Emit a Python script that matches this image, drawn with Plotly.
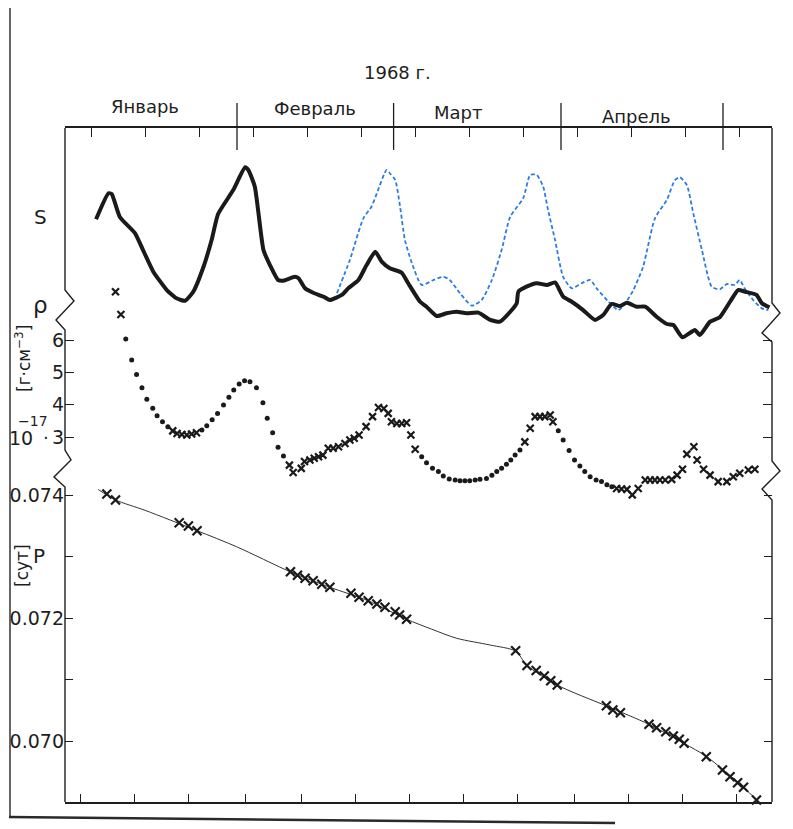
import plotly.graph_objects as go

# ---------------- data (x = day of 1968, 0 = 1 January) ----------------
# S : solar index, arbitrary units (solid black curve)
s_black_day = [4.9, 7.2, 7.8, 9.3, 12.1, 13.6, 15.5, 18.0, 19.8, 21.4, 22.9, 24.8, 26.3, 27.5, 30.3,
               32.5, 33.1, 34.3, 35.9, 37.1, 38.6, 39.6, 41.7, 42.4, 43.6, 45.1, 47.0, 48.2, 50.4,
               51.6, 53.5, 55.0, 56.6, 57.8, 59.3, 61.5, 62.7, 64.9, 66.1, 68.0, 69.8, 71.7, 73.5,
               75.7, 77.9, 79.7, 81.6, 82.8, 83.1, 84.6, 86.5, 88.4, 89.9, 91.4, 93.0, 95.1, 97.3,
               98.8, 100.4, 101.9, 103.2, 105.0, 106.6, 108.7, 110.6, 111.8, 113.5, 115.8, 116.7,
               118.6, 120.4, 122.3, 123.8, 125.1, 127.2, 128.2, 129.6]
s_black_val = [71.0, 86.3, 85.9, 72.4, 62.9, 52.9, 40.2, 29.4, 24.5, 23.1, 28.4, 43.1, 58.8, 74.1, 88.2,
               101.6, 100.0, 90.2, 52.9, 44.1, 35.3, 34.9, 37.2, 36.3, 30.4, 27.8, 25.5, 23.5, 26.5,
               30.4, 35.3, 44.1, 51.9, 46.1, 42.2, 39.6, 33.4, 22.5, 19.6, 14.1, 15.7, 16.6, 15.7,
               16.1, 11.8, 10.8, 16.6, 21.6, 28.4, 31.4, 33.4, 32.4, 33.9, 25.5, 22.5, 17.6, 11.8,
               14.7, 21.2, 20.0, 21.9, 19.6, 19.6, 13.7, 9.4, 8.8, 1.6, 5.9, 2.9,
               10.8, 13.4, 22.5, 29.4, 28.4, 26.5, 21.6, 19.2]
# S : second curve (blue dashed)
s_blue_day = [49.5, 51.9, 54.4, 55.9, 56.9, 58.7, 59.3, 60.3, 61.2, 62.1, 63.4, 65.2, 67.4, 69.2, 70.4,
              72.3, 74.5, 76.3, 78.2, 80.0, 81.6, 84.0, 85.3, 86.5, 87.7, 88.6, 89.9, 91.4, 93.0,
              94.8, 96.4, 97.6, 99.8, 101.6, 102.9, 104.4, 106.2, 108.4, 110.6, 112.1, 113.0, 114.3,
              115.5, 117.1, 118.9, 120.4, 121.7, 123.2, 124.1, 125.0, 126.6, 128.2, 129.4]
s_blue_val = [27.5, 47.1, 71.6, 78.4, 86.3, 100.0, 98.1, 94.1, 78.4, 58.8, 45.1, 32.4, 35.3, 37.2, 35.3,
              27.5, 20.2, 23.5, 35.3, 52.9, 72.5, 83.4, 97.1, 97.1, 90.2, 76.5, 58.8, 37.2, 30.4,
              33.4, 35.3, 30.4, 22.5, 17.6, 21.6, 29.4, 43.1, 71.6, 82.4, 94.1, 95.7, 91.2,
              74.5, 52.9, 31.4, 29.8, 32.9, 32.4, 35.3, 30.4, 23.5, 18.6, 17.6]

# rho : density, 10^-17 g/cm^3 (crosses and dots)
rho_cross_day = [8.5, 9.5, 19.1, 19.9, 20.8, 21.7, 22.6, 23.5,
                 40.7, 41.4, 42.9, 43.5, 44.5, 45.3, 46.1, 46.9, 47.9, 48.8, 49.8, 51.0, 51.9, 52.7,
                 53.6, 54.9, 56.1, 57.2, 58.2, 59.0, 59.6, 60.6, 61.5, 62.4, 63.2, 64.0,
                 84.3, 85.3, 86.2, 87.1, 88.0, 89.0, 89.5,
                 101.3, 102.2, 103.2, 104.2, 105.3, 106.6, 107.5, 108.4, 109.3, 110.3, 111.5, 112.5,
                 113.5, 114.3, 115.6, 116.2, 117.4, 118.6, 120.1, 121.7, 122.9, 124.1, 125.7, 126.9]
rho_cross_val = [7.49, 6.79, 3.19, 3.11, 3.08, 3.06, 3.09, 3.13,
                 2.13, 1.90, 2.03, 2.24, 2.29, 2.34, 2.39, 2.44, 2.65, 2.65, 2.70, 2.80, 2.91, 2.96,
                 3.06, 3.32, 3.63, 3.91, 3.88, 3.73, 3.47, 3.42, 3.42, 3.44, 3.06, 2.62,
                 2.85, 3.27, 3.63, 3.63, 3.63, 3.68, 3.47,
                 1.41, 1.39, 1.38, 1.21, 1.41, 1.67, 1.67, 1.67, 1.67, 1.67, 1.69, 1.82,
                 2.00, 2.47, 2.70, 2.29, 2.00, 1.82, 1.62, 1.62, 1.77, 1.88, 1.98, 2.00]
rho_dot_day = [10.4, 11.5, 12.4, 13.4, 14.3, 15.4, 16.2, 17.2, 18.2,
               24.5, 25.4, 26.4, 27.4, 28.5, 29.5, 30.4, 31.4, 32.4, 33.4, 34.6, 35.8, 36.6, 37.6,
               38.6, 39.6,
               65.2, 66.1, 67.2, 68.3, 69.2, 70.3, 71.4, 72.3, 73.2, 74.1, 75.1, 76.0, 77.2, 78.2,
               79.1, 80.0, 80.9, 81.7, 82.5, 83.4,
               90.5, 91.4, 92.5, 93.5, 94.5, 95.4, 96.4, 97.5, 98.5, 99.5, 100.4]
rho_dot_val = [6.03, 5.38, 4.93, 4.52, 4.17, 3.89, 3.66, 3.47, 3.32,
               3.22, 3.35, 3.53, 3.73, 3.99, 4.23, 4.45, 4.64, 4.74, 4.71, 4.52, 4.06, 3.58, 3.13,
               2.68, 2.41,
               2.39, 2.20, 2.03, 1.93, 1.79, 1.70, 1.67, 1.65, 1.65, 1.65, 1.67, 1.69, 1.72, 1.82,
               1.93, 2.03, 2.16, 2.29, 2.44, 2.60,
               3.19, 2.91, 2.58, 2.29, 2.10, 1.93, 1.77, 1.67, 1.62, 1.52, 1.46]

# P : orbital period, days (crosses + smooth curve)
p_cross_day = [6.9, 8.5, 20.3, 22.0, 23.6, 40.9, 42.2, 43.6, 45.1, 46.7, 48.2, 52.1, 53.6, 55.3, 56.9,
               58.4, 60.3, 61.1, 62.4, 82.6, 84.7, 86.4, 87.9, 89.1, 90.3, 99.4, 100.6, 102.0,
               107.3, 108.7, 110.4, 111.8, 112.9, 113.8, 117.9, 120.9, 122.3, 123.7, 124.8, 127.2]
p_cross_val = [0.074016, 0.073919, 0.073550, 0.073496, 0.073420, 0.072753, 0.072694, 0.072646,
               0.072607, 0.072548, 0.072499, 0.072402, 0.072337, 0.072281, 0.072228, 0.072174,
               0.072102, 0.072049, 0.071979, 0.071468, 0.071228, 0.071146, 0.071057, 0.070980,
               0.070911, 0.070574, 0.070504, 0.070460, 0.070272, 0.070216, 0.070151, 0.070081,
               0.070028, 0.069963, 0.069745, 0.069528, 0.069420, 0.069322, 0.069247, 0.069041]
p_curve_day = [5.3, 8.5, 14.0, 23.6, 30.9, 40.9, 48.2, 55.3, 62.4, 67.0, 71.7, 77.9, 82.6, 84.7,
               90.3, 99.4, 107.3, 113.8, 117.9, 124.8, 127.2]
p_curve_val = [0.07409, 0.07392, 0.07375, 0.07342, 0.07316, 0.07275, 0.07250, 0.07228, 0.07198,
               0.07182, 0.07167, 0.07156, 0.07146, 0.07123, 0.07091, 0.07057, 0.07027, 0.06996,
               0.06975, 0.06925, 0.06904]

# axes / labels
month_names = ["Январь", "Февраль", "Март", "Апрель"]
month_label_day = [14.0, 45.4, 72.0, 104.9]
month_start_day = [31, 60, 91, 121]
top_tick_day = [4, 14, 24, 34, 44, 54, 64, 74, 84, 94, 104, 114, 124]
bottom_tick_day = [2, 12, 22, 32.5, 43, 53, 63, 73, 83, 93.5, 103.5, 113.5, 123.5]
rho_tick_vals = [3, 4, 5, 6]
rho_tick_text = ["3", "4", "5", "6"]
p_tick_vals = [0.070, 0.072, 0.074]
p_tick_text = ["0.070", "0.072", "0.074"]
p_minor_vals = [0.071, 0.073]

# ---------------- geometry (page pixels; the page body adds an 8 px offset) ----------------
PAGE_W, PAGE_H, BODY = 793, 829, 8
W, H = PAGE_W - BODY, PAGE_H - BODY
PL, PR, PT, PB = 65, 772, 128, 802          # plot area in page pixels
DAY0_PX, PX_PER_DAY = 69.6, 5.4


def fx(px):
    return (px - PL) / (PR - PL)


def fy(py):
    return (PB - py) / (PB - PT)


def yrange(va, pa, vb, pb):
    k = (vb - va) / (pb - pa)
    return [va + (PB - pa) * k, va + (PT - pa) * k]


x_range = [(PL - DAY0_PX) / PX_PER_DAY, (PR - DAY0_PX) / PX_PER_DAY]
FONT = "DejaVu Sans"
INK = "#1e1e1e"

fig = go.Figure()

# S panel
fig.add_trace(go.Scatter(x=s_blue_day, y=s_blue_val, yaxis="y3", mode="lines",
                         line=dict(color="#2c7de3", width=1.8, dash="4px,2.5px", shape="spline",
                                   smoothing=0.6),
                         hoverinfo="skip", showlegend=False))
fig.add_trace(go.Scatter(x=s_black_day, y=s_black_val, yaxis="y3", mode="lines",
                         line=dict(color="#1a1a1a", width=4, shape="spline", smoothing=0.5),
                         hoverinfo="skip", showlegend=False))
# rho
fig.add_trace(go.Scatter(x=rho_dot_day, y=rho_dot_val, yaxis="y2", mode="markers",
                         marker=dict(symbol="circle", size=5, color="#1a1a1a"),
                         cliponaxis=False, hoverinfo="skip", showlegend=False))
fig.add_trace(go.Scatter(x=rho_cross_day, y=rho_cross_val, yaxis="y2", mode="markers",
                         marker=dict(symbol="x-thin", size=7, color="#1a1a1a",
                                     line=dict(width=2.2, color="#1a1a1a")),
                         cliponaxis=False, hoverinfo="skip", showlegend=False))
# P
fig.add_trace(go.Scatter(x=p_curve_day, y=p_curve_val, yaxis="y", mode="lines",
                         line=dict(color="#333333", width=1, shape="spline", smoothing=0.8),
                         hoverinfo="skip", showlegend=False))
fig.add_trace(go.Scatter(x=p_cross_day, y=p_cross_val, yaxis="y", mode="markers",
                         marker=dict(symbol="x-thin", size=9, color="#1a1a1a",
                                     line=dict(width=2.2, color="#1a1a1a")),
                         cliponaxis=False, hoverinfo="skip", showlegend=False))
# dummy trace for the top axis
fig.add_trace(go.Scatter(x=[None], y=[None], xaxis="x2", yaxis="y", hoverinfo="skip",
                         showlegend=False))

tickfont = dict(family=FONT, size=19, color=INK)

fig.update_layout(
    width=W, height=H, autosize=False,
    margin=dict(l=PL - BODY, r=PAGE_W - PR, t=PT - BODY, b=PAGE_H - PB, pad=0,
                autoexpand=False),
    paper_bgcolor="white", plot_bgcolor="white",
    xaxis=dict(range=x_range, showgrid=False, zeroline=False, showline=True, linecolor=INK,
               linewidth=1.5, ticks="inside", ticklen=8, tickwidth=1.2, tickcolor=INK,
               tickvals=bottom_tick_day, showticklabels=False, automargin=False),
    xaxis2=dict(range=x_range, overlaying="x", side="top", anchor="y", showgrid=False,
                zeroline=False, showline=True, linecolor=INK, linewidth=1.5, ticks="inside",
                ticklen=9, tickwidth=1.2, tickcolor=INK, tickvals=top_tick_day,
                showticklabels=False, automargin=False),
    yaxis=dict(range=yrange(0.074, 495, 0.070, 741), showgrid=False, zeroline=False,
               showline=False, ticks="inside", ticklen=8, tickwidth=1.2, tickcolor=INK,
               mirror="ticks", tickvals=p_tick_vals, ticktext=p_tick_text, tickfont=tickfont,
               automargin=False,
               minor=dict(tickvals=p_minor_vals, ticks="inside", ticklen=8, tickwidth=1.2,
                          tickcolor=INK, showgrid=False)),
    yaxis2=dict(range=yrange(6, 340, 3, 437), overlaying="y", side="left", anchor="x",
                showgrid=False, zeroline=False, showline=False, ticks="inside", ticklen=9,
                tickwidth=1.2, tickcolor=INK, mirror="ticks", tickvals=rho_tick_vals,
                ticktext=rho_tick_text, tickfont=tickfont, automargin=False),
    yaxis3=dict(range=yrange(0, 340, 100, 170), overlaying="y", visible=False,
                automargin=False),
)


def path(points):
    return "M " + " L ".join(f"{fx(a):.5f},{fy(b):.5f}" for a, b in points)


left_axis = [(PL, PT), (PL, 290), (74, 301), (56, 320), (PL, 330), (PL, 450), (71, 460),
             (54, 477), (PL, 487), (PL, PB)]
right_axis = [(PR, PT), (PR, 303), (780, 313), (762, 333), (PR, 342), (PR, 461), (780, 471),
              (762, 489), (PR, 500), (PR, PB)]
shapes = [
    dict(type="path", xref="paper", yref="paper", path=path(left_axis),
         line=dict(color=INK, width=1.4)),
    dict(type="path", xref="paper", yref="paper", path=path(right_axis),
         line=dict(color=INK, width=1.4)),
    # page frame of the scan
    dict(type="line", xref="paper", yref="paper", x0=fx(10), x1=fx(10), y0=fy(8), y1=fy(818),
         line=dict(color="#333333", width=1.5)),
    dict(type="line", xref="paper", yref="paper", x0=fx(9), x1=fx(615), y0=fy(817), y1=fy(823),
         line=dict(color="#2a2a2a", width=2.6)),
    dict(type="line", xref="paper", yref="paper", x0=fx(789), x1=fx(789), y0=fy(395), y1=fy(829),
         line=dict(color="#9a9a9a", width=1)),
]
for d in month_start_day:
    shapes.append(dict(type="line", xref="x", yref="paper", x0=d, x1=d, y0=fy(103), y1=fy(150),
                       line=dict(color=INK, width=1.3)))
fig.update_layout(shapes=shapes)


def label(text, px, py, size, angle=0):
    return dict(text=text, x=fx(px), y=fy(py), xref="paper", yref="paper", showarrow=False,
                xanchor="center", yanchor="middle", textangle=angle,
                font=dict(family=FONT, size=size, color=INK))


annotations = [
    label("1968 г.", 397, 72, 18),
    label("S", 40, 217, 20),
    label("ρ", 40, 305, 23),
    label("P", 39, 556, 20),
    label("[г·см<sup>−3</sup>]", 23, 359, 17, -90),
    label("[сут]", 22, 566, 17, -90),
    label("10", 21, 438, 19),
    label("−17", 33, 421, 14),
    label("·", 46, 437, 18),
]
month_y = [107, 108, 113, 117]
for name, d, yy in zip(month_names, month_label_day, month_y):
    annotations.append(dict(text=name, x=d, xref="x", y=fy(yy), yref="paper", showarrow=False,
                            xanchor="center", yanchor="middle",
                            font=dict(family=FONT, size=18, color=INK)))
fig.update_layout(annotations=annotations)

fig.write_html("out.html")
